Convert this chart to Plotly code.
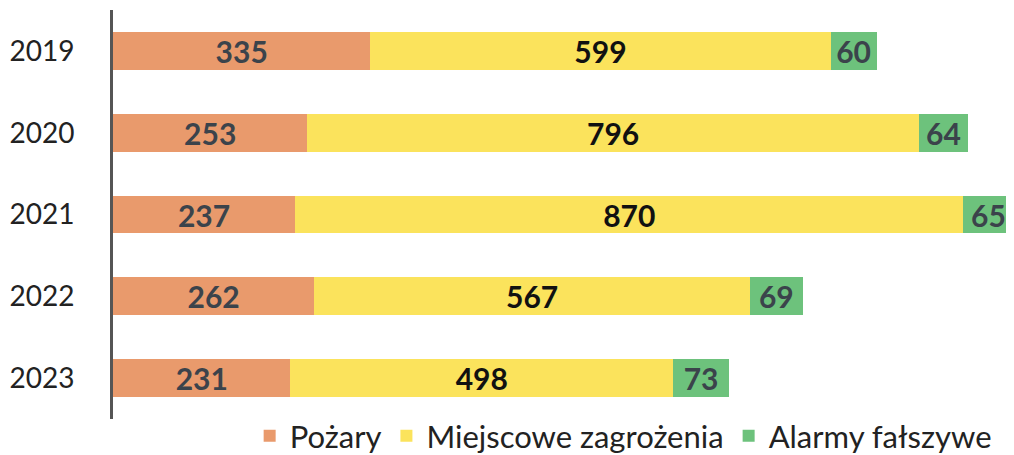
import plotly.graph_objects as go

years = ["2019", "2020", "2021", "2022", "2023"]
pozary = [335, 253, 237, 262, 231]
miejscowe = [599, 796, 870, 567, 498]
alarmy = [60, 64, 65, 69, 73]

series = [
    ("Pożary", pozary, "#E99A6C", "#3B434B"),
    ("Miejscowe zagrożenia", miejscowe, "#FBE35C", "#111111"),
    ("Alarmy fałszywe", alarmy, "#6DC27C", "#3B434B"),
]

fig = go.Figure()
for name, vals, color, tcolor in series:
    fig.add_trace(
        go.Bar(
            y=years,
            x=vals,
            name=name,
            orientation="h",
            marker={"color": color, "line": {"width": 0}},
            text=[str(v) for v in vals],
            textposition="inside",
            insidetextanchor="middle",
            constraintext="none",
            textangle=0,
            textfont={"family": "Lato", "size": 30, "color": tcolor, "weight": "bold"},
            hoverinfo="skip",
        )
    )

# plot area runs to the bottom edge; the y domain leaves room for the legend
fig.update_layout(
    barmode="stack",
    bargap=0.54,
    width=1014,
    height=455,
    margin={"l": 105, "r": 14, "t": 2, "b": 0},
    plot_bgcolor="white",
    paper_bgcolor="white",
    font={"family": "Lato", "size": 28, "color": "#222222"},
    legend={
        "orientation": "h",
        "x": 0.57,
        "xanchor": "center",
        "y": 0,
        "yanchor": "bottom",
        "font": {"size": 31, "color": "#222222"},
        "traceorder": "normal",
        "itemwidth": 30,
        "bgcolor": "rgba(0,0,0,0)",
    },
)
fig.update_xaxes(range=[0, 1165], visible=False)
fig.update_yaxes(
    domain=[44 / 453, 1],
    autorange="reversed",
    automargin=False,
    showline=True,
    linecolor="#555555",
    linewidth=3,
    showgrid=False,
    ticks="",
    ticklabelstandoff=30,
    tickfont={"size": 28, "color": "#222222"},
)

fig.write_html("out.html")
